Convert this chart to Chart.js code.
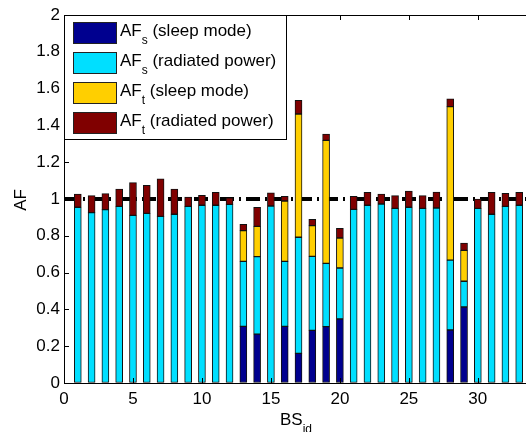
<!DOCTYPE html>
<html>
<head>
<meta charset="utf-8">
<script src="https://cdn.jsdelivr.net/npm/chart.js@4"></script>
<style>
  html, body { margin: 0; padding: 0; background: #fff; overflow: hidden; }
  #wrap { width: 540px; height: 432px; }
</style>
</head>
<body>
<div id="wrap"><canvas id="chart" width="540" height="432"></canvas></div>
<script>
// base station ids on the x axis
const bsIds = [1,2,3,4,5,6,7,8,9,10,11,12,13,14,15,16,17,18,19,20,21,22,23,24,25,26,27,28,29,30,31,32,33];

// stacked pieces of each bar
const afSleepS = [0,0,0,0,0,0,0,0,0,0,0,0,0.308,0.266,0,0.308,0.161,0.286,0.306,0.348,0,0,0,0,0,0,0,0.288,0.413,0,0,0,0];
const afRadS   = [0.955,0.926,0.942,0.960,0.911,0.922,0.906,0.917,0.960,0.966,0.966,0.971,0.353,0.421,0.962,0.353,0.631,0.402,0.344,0.277,0.944,0.966,0.973,0.949,0.955,0.949,0.951,0.380,0.140,0.949,0.917,0.960,0.966];
const afSleepT = [0,0,0,0,0,0,0,0,0,0,0,0,0.167,0.164,0,0.328,0.670,0.167,0.669,0.163,0,0,0,0,0,0,0,0.834,0.168,0,0,0,0];
const afRadT   = [0.072,0.092,0.087,0.094,0.178,0.152,0.203,0.137,0.051,0.054,0.070,0.036,0.034,0.104,0.071,0.026,0.074,0.034,0.034,0.052,0.070,0.070,0.054,0.069,0.088,0.069,0.087,0.043,0.040,0.051,0.119,0.071,0.070];

const seriesNames = ['sleep mode', 'radiated power', 'sleep mode', 'radiated power'];
const seriesSubs = ['s', 's', 't', 't'];
const seriesColors = ['#00008f', '#00dfff', '#ffcf00', '#800000'];

const xTicks = [0, 5, 10, 15, 20, 25, 30];
const yTicks = [0, 0.2, 0.4, 0.6, 0.8, 1, 1.2, 1.4, 1.6, 1.8, 2];
const xLimits = [0, 34];
const yLimits = [0, 2];
const refLevel = 1;

const FONT = "'Liberation Sans', Arial, sans-serif";
const FS = 17;

function toPoints(vals) {
    return bsIds.map((id, i) => ({ x: id, y: vals[i] === 0 ? null : vals[i] }));
}

const barSets = [afSleepS, afRadS, afSleepT, afRadT].map((vals, k) => ({
    type: 'bar',
    label: 'AF' + seriesSubs[k] + ' (' + seriesNames[k] + ')',
    data: toPoints(vals),
    backgroundColor: seriesColors[k],
    borderColor: '#111',
    borderWidth: 1,
    borderSkipped: false,
    barThickness: 7,
    stack: 'af',
    order: 1
}));

const refLine = {
    type: 'line',
    label: 'ref',
    data: xLimits.map(x => ({ x: x, y: refLevel })),
    borderColor: '#000',
    borderWidth: 4,
    borderDash: [14, 5, 2, 5],
    borderCapStyle: 'butt',
    pointRadius: 0,
    fill: false,
    stack: 'ref',
    order: 2
};

// frame, inward tick marks, axis titles and legend
const framePlugin = {
    id: 'frame',
    afterDatasetsDraw(chart) {
        const { ctx, chartArea: a, scales } = chart;
        ctx.save();
        ctx.strokeStyle = '#000';
        ctx.lineWidth = 1;
        ctx.beginPath();
        ctx.moveTo(a.left, a.top + 0.5); ctx.lineTo(a.right, a.top + 0.5);
        ctx.moveTo(a.right - 0.5, a.top); ctx.lineTo(a.right - 0.5, a.bottom);
        scales.x.ticks.forEach(t => {
            const px = Math.round(scales.x.getPixelForValue(t.value)) + 0.5;
            ctx.moveTo(px, a.bottom); ctx.lineTo(px, a.bottom - 5);
            ctx.moveTo(px, a.top); ctx.lineTo(px, a.top + 5);
        });
        scales.y.ticks.forEach(t => {
            const py = Math.round(scales.y.getPixelForValue(t.value)) + 0.5;
            ctx.moveTo(a.left, py); ctx.lineTo(a.left + 5, py);
            ctx.moveTo(a.right, py); ctx.lineTo(a.right - 5, py);
        });
        ctx.stroke();
        ctx.restore();
    },
    afterDraw(chart) {
        const { ctx, chartArea: a } = chart;
        ctx.save();
        ctx.fillStyle = '#000';
        ctx.textBaseline = 'alphabetic';
        ctx.textAlign = 'left';

        // y title
        ctx.save();
        ctx.translate(26, 200);
        ctx.rotate(-Math.PI / 2);
        ctx.font = FS + 'px ' + FONT;
        ctx.textAlign = 'center';
        ctx.fillText('AF', 0, 0);
        ctx.restore();

        // x title with subscript
        ctx.font = FS + 'px ' + FONT;
        ctx.fillText('BS', 280, 425);
        const bw = ctx.measureText('BS').width;
        ctx.font = '12px ' + FONT;
        ctx.fillText('id', 280 + bw, 433);

        // legend
        const lx = a.left, ly = a.top, lw = 222, lh = 124;
        ctx.fillStyle = '#fff';
        ctx.fillRect(lx, ly, lw, lh);
        ctx.strokeStyle = '#000';
        ctx.lineWidth = 1;
        ctx.strokeRect(lx + 0.5, ly + 0.5, lw, lh);
        seriesNames.forEach((name, k) => {
            const top = ly + 7 + k * 30;
            ctx.fillStyle = seriesColors[k];
            ctx.fillRect(lx + 9, top, 44, 22);
            ctx.strokeStyle = '#222';
            ctx.strokeRect(lx + 9.5, top + 0.5, 43, 21);
            const base = top + 14;
            let tx = lx + 56;
            ctx.fillStyle = '#000';
            ctx.font = FS + 'px ' + FONT;
            ctx.fillText('AF', tx, base);
            tx += ctx.measureText('AF').width;
            ctx.font = '12px ' + FONT;
            ctx.fillText(seriesSubs[k], tx, base + 8);
            tx += ctx.measureText(seriesSubs[k]).width;
            ctx.font = FS + 'px ' + FONT;
            ctx.fillText(' (' + name + ')', tx, base);
        });
        ctx.restore();
    }
};

new Chart(document.getElementById('chart').getContext('2d'), {
    data: { datasets: [refLine].concat(barSets) },
    options: {
        responsive: false,
        animation: false,
        devicePixelRatio: 1,
        layout: { padding: { top: 15, right: 7, left: 0, bottom: 0 } },
        plugins: { legend: { display: false }, tooltip: { enabled: false } },
        scales: {
            x: {
                type: 'linear',
                stacked: true,
                offset: false,
                min: xLimits[0],
                max: xLimits[1],
                afterBuildTicks: s => { s.ticks = xTicks.map(v => ({ value: v })); },
                afterFit: s => { s.height = 49; },
                grid: { display: true, drawOnChartArea: false, drawTicks: false, offset: false },
                border: { display: true, color: '#000', width: 1 },
                ticks: {
                    color: '#000',
                    padding: 6,
                    maxRotation: 0,
                    font: { family: FONT, size: FS },
                    callback: v => String(v)
                }
            },
            y: {
                type: 'linear',
                stacked: true,
                min: yLimits[0],
                max: yLimits[1],
                afterBuildTicks: s => { s.ticks = yTicks.map(v => ({ value: v })); },
                afterFit: s => { s.width = 64; },
                grid: { display: true, drawOnChartArea: false, drawTicks: false },
                border: { display: true, color: '#000', width: 1 },
                ticks: {
                    color: '#000',
                    padding: 4,
                    font: { family: FONT, size: FS },
                    callback: v => String(+v.toFixed(1))
                }
            }
        }
    },
    plugins: [framePlugin]
});
</script>
</body>
</html>
